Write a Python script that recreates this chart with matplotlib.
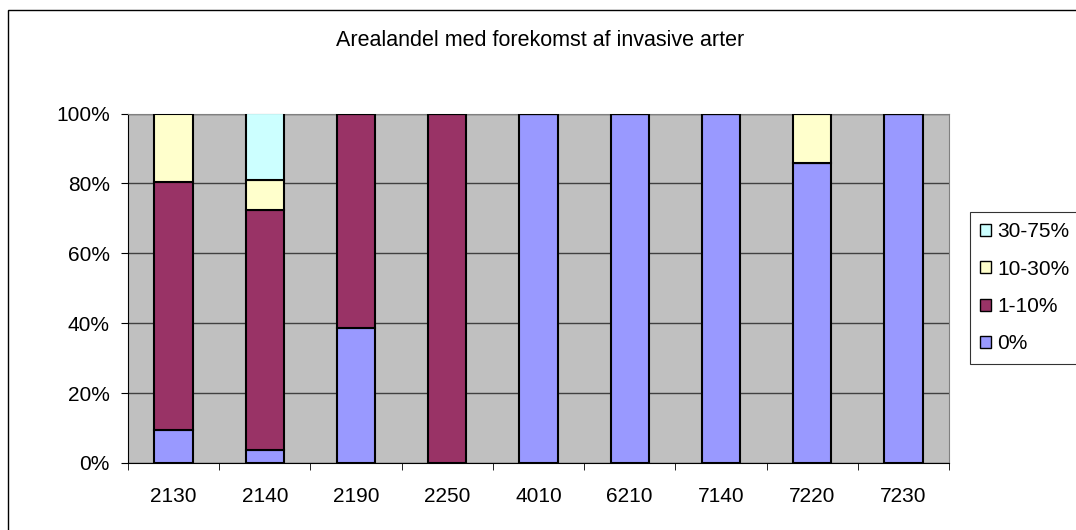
import matplotlib.pyplot as plt
from matplotlib.patches import Rectangle

plt.rcParams['font.family'] = ['Liberation Sans', 'DejaVu Sans']

habitats = ['2130', '2140', '2190', '2250', '4010', '6210', '7140', '7220', '7230']
share_0 = [9.5, 3.8, 38.5, 0, 100, 100, 100, 85.7, 100]
share_1_10 = [71.0, 68.7, 61.5, 100, 0, 0, 0, 0, 0]
share_10_30 = [19.5, 8.6, 0, 0, 0, 0, 0, 14.3, 0]
share_30_75 = [0, 18.9, 0, 0, 0, 0, 0, 0, 0]

series = [
    ('0%', share_0, '#9999FF'),
    ('1-10%', share_1_10, '#993366'),
    ('10-30%', share_10_30, '#FFFFCC'),
    ('30-75%', share_30_75, '#CCFFFF'),
]

fig = plt.figure(figsize=(10.76, 5.30), dpi=100)
fig.patches.append(Rectangle((8 / 1076, -0.01), 1.02, 1 - 10 / 530 + 0.01,
                             transform=fig.transFigure, fill=False,
                             edgecolor='black', linewidth=1.0))

ax = fig.add_axes([128 / 1076, 1 - 463 / 530, 821 / 1076, 349.5 / 530])
ax.set_facecolor('#C0C0C0')

x = list(range(len(habitats)))
bottom = [0] * len(habitats)
handles = []
for label, vals, color in series:
    h = ax.bar(x, vals, width=0.42, bottom=bottom, color=color,
               edgecolor='black', linewidth=1.5, label=label, zorder=3)
    handles.append(h)
    bottom = [b + v for b, v in zip(bottom, vals)]

ax.set_xlim(-0.5, len(habitats) - 0.5)
ax.set_ylim(0, 100)
ax.set_yticks(range(0, 101, 20))
ax.set_yticklabels([f'{v}%' for v in range(0, 101, 20)], fontsize=15)
ax.yaxis.grid(True, color='#404040', linewidth=1.0, zorder=1)
ax.set_axisbelow(True)

ax.set_xticks(x)
ax.set_xticklabels(habitats, fontsize=15)
ax.tick_params(axis='x', length=0, pad=17)
ax.set_xticks([i - 0.5 for i in range(len(habitats) + 1)], minor=True)
ax.tick_params(axis='x', which='minor', length=5, direction='out', color='black')
ax.tick_params(axis='y', length=5, direction='out', color='black', pad=8)

for side in ('top', 'right'):
    ax.spines[side].set_color('#808080')
ax.spines['left'].set_color('black')
ax.spines['bottom'].set_color('black')

fig.text(540 / 1076, 1 - 40 / 530, 'Arealandel med forekomst af invasive arter',
         ha='center', va='center', fontsize=15.5)

leg = fig.legend(handles[::-1], [s[0] for s in series][::-1],
                 loc='upper left', bbox_to_anchor=(970 / 1076, 1 - 212 / 530),
                 fontsize=15, frameon=True, fancybox=False, edgecolor='black',
                 handlelength=0.5, handleheight=0.5, handletextpad=0.3,
                 labelspacing=0.88, borderpad=0.5, borderaxespad=0)
leg.get_frame().set_linewidth(0.8)
for h in leg.legend_handles:
    h.set_linewidth(1.0)

fig.savefig('out.png', dpi=100)
